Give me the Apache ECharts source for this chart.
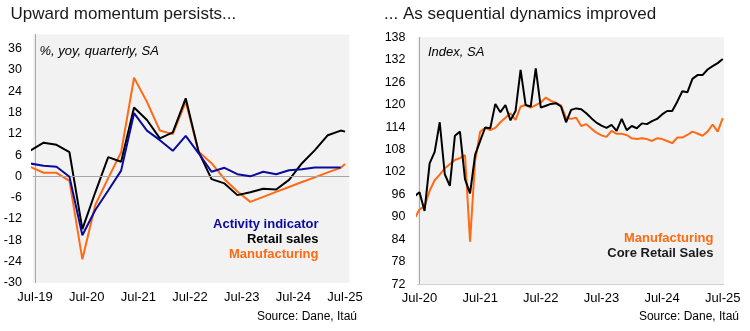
<!DOCTYPE html>
<html>
<head>
<meta charset="utf-8">
<script src="https://cdn.jsdelivr.net/npm/echarts@6/dist/echarts.min.js"></script>
<style>
  html, body { margin: 0; padding: 0; background: #ffffff; }
  #chart { width: 750px; height: 331px; }
</style>
</head>
<body>
<div id="chart"></div>
<script>
// ---------- Left chart data (quarterly, % yoy) ----------
const leftTickLabels = ['Jul-19', 'Jul-20', 'Jul-21', 'Jul-22', 'Jul-23', 'Jul-24', 'Jul-25'];
const quarterLabels = ['Jun-19','Sep-19','Dec-19','Mar-20','Jun-20','Sep-20','Dec-20','Mar-21','Jun-21','Sep-21','Dec-21','Mar-22','Jun-22','Sep-22','Dec-22','Mar-23','Jun-23','Sep-23','Dec-23','Mar-24','Jun-24','Sep-24','Dec-24','Mar-25','Jun-25','Jul-25'];
const activityIndicator = [3.6, 3.0, 2.7, -0.1, -16.6, -9.5, -4.0, 1.6, 17.8, 12.9, 10.2, 7.2, 11.4, 6.5, 1.3, 2.4, 0.6, 0.0, 1.3, 0.6, 1.7, 2.0, 2.5, 2.5, 2.5];
const retailSales = [7.3, 9.5, 8.9, 6.8, -14.9, -4.5, 5.4, 4.1, 19.4, 15.9, 10.7, 12.4, 22.0, 6.9, -0.8, -2.0, -5.3, -4.5, -3.5, -3.7, -1.0, 3.7, 7.4, 11.6, 12.9, 12.6];
const manufacturingYoy = [2.6, 1.0, 1.0, -1.3, -23.4, -8.1, -0.5, 6.8, 27.8, 21.0, 12.9, 11.9, 21.0, 6.9, 3.7, -0.8, -4.3, -7.2, -5.8, -4.4, -3.0, -1.6, -0.3, 1.1, 2.4, 3.5];

// ---------- Right chart data (monthly, index SA) ----------
const rightTickLabels = ['Jul-20', 'Jul-21', 'Jul-22', 'Jul-23', 'Jul-24', 'Jul-25'];
const coreRetailSales = [95.5, 96.6, 91.6, 104.3, 107.4, 115.3, 101.4, 98.3, 111.7, 112.8, 100.1, 96.3, 106.6, 110.3, 113.9, 113.7, 120.2, 118.0, 119.9, 115.8, 118.3, 129.3, 119.9, 119.5, 129.7, 119.2, 119.7, 120.2, 120.4, 119.5, 115.3, 118.6, 119.0, 118.8, 117.7, 116.4, 115.2, 114.4, 113.8, 114.6, 113.0, 116.2, 113.2, 114.3, 113.7, 115.0, 114.8, 115.6, 116.2, 117.4, 118.3, 118.3, 120.8, 123.6, 123.3, 126.9, 127.9, 127.9, 129.4, 130.3, 131.1, 132.2];
const manufacturingIndex = [89.5, 92.0, 92.8, 97.0, 99.8, 101.3, 103.0, 104.1, 105.2, 105.7, 106.5, 83.4, 105.0, 112.8, 113.8, 113.2, 113.8, 115.3, 116.5, 117.7, 115.9, 119.5, 119.9, 119.2, 119.9, 120.6, 121.9, 121.0, 120.5, 119.8, 116.5, 116.2, 116.5, 114.3, 114.8, 113.6, 112.5, 111.8, 111.4, 113.0, 112.2, 112.2, 111.9, 111.0, 110.8, 111.0, 110.8, 110.3, 111.0, 110.8, 110.3, 109.7, 111.2, 111.2, 111.9, 112.8, 112.3, 111.7, 112.8, 114.7, 112.8, 116.4];
const monthStart = 'Jun-20';

// ---------- helpers ----------
const MONTHS = ['Jan','Feb','Mar','Apr','May','Jun','Jul','Aug','Sep','Oct','Nov','Dec'];
function monthNum(label) {
  const p = label.split('-');
  return (2000 + parseInt(p[1], 10)) * 12 + MONTHS.indexOf(p[0]);
}
const leftBase = monthNum('Jul-19');
const rightBase = monthNum('Jul-20');
function pairs(labels, values, base) {
  return values.map((v, i) => [monthNum(labels[i]) - base, v]);
}
const monthLabels = [];
for (let i = 0; i < coreRetailSales.length; i++) {
  const n = monthNum(monthStart) + i;
  monthLabels.push(MONTHS[n % 12] + '-' + String(Math.floor(n / 12) % 100).padStart(2, '0'));
}

const FONT = '"Liberation Sans", Arial, sans-serif';
const BLUE = '#0a0a9e';
const ORANGE = '#ff6a13';
const BLACK = '#000000';
const AXIS = '#a6a6a6';

const chart = echarts.init(document.getElementById('chart'), null, { renderer: 'canvas' });

const labelStyle = { color: '#000', fontFamily: FONT, fontSize: 12.5 };

const option = {
  animation: false,
  backgroundColor: '#ffffff',
  grid: [
    { left: 32.85, top: 34.5, width: 316.5, height: 248.2, show: true, backgroundColor: '#f2f2f2', borderWidth: 0 },
    { left: 417.5, top: 37.3, width: 306.5, height: 247, show: true, backgroundColor: '#f2f2f2', borderWidth: 0 }
  ],
  xAxis: [
    {
      type: 'value', gridIndex: 0, min: -0.5, max: 73,
      axisLine: { show: false }, axisTick: { show: false }, splitLine: { show: false },
      axisLabel: Object.assign({}, labelStyle, {
        fontSize: 13, margin: 8,
        customValues: [0, 12, 24, 36, 48, 60, 72],
        formatter: v => leftTickLabels[Math.round(v / 12)] || ''
      })
    },
    {
      type: 'value', gridIndex: 1, min: -0.4, max: 60.25,
      axisLine: { show: true, onZero: false, lineStyle: { color: '#d0d0d0', width: 1 } },
      axisTick: { show: false }, splitLine: { show: false },
      axisLabel: Object.assign({}, labelStyle, {
        fontSize: 13, margin: 8,
        customValues: [0, 12, 24, 36, 48, 60],
        formatter: v => rightTickLabels[Math.round(v / 12)] || ''
      })
    }
  ],
  yAxis: [
    {
      type: 'value', gridIndex: 0, min: -30, max: 40, interval: 6,
      axisLine: { show: true, lineStyle: { color: AXIS, width: 1 } },
      axisTick: { show: false }, splitLine: { show: false },
      axisLabel: Object.assign({}, labelStyle, { margin: 11, showMaxLabel: false })
    },
    {
      type: 'value', gridIndex: 1, min: 72, max: 138, interval: 6,
      axisLine: { show: true, lineStyle: { color: AXIS, width: 1 } },
      axisTick: { show: false }, splitLine: { show: false },
      axisLabel: Object.assign({}, labelStyle, { margin: 12 })
    }
  ],
  series: [
    {
      name: 'zero', type: 'line', xAxisIndex: 0, yAxisIndex: 0,
      data: pairs(quarterLabels, activityIndicator, leftBase),
      symbol: 'none', lineStyle: { opacity: 0 }, silent: true, z: 1,
      markLine: {
        silent: true, symbol: 'none', label: { show: false },
        lineStyle: { color: AXIS, width: 1, type: 'solid' },
        data: [{ yAxis: 0 }]
      }
    },
    {
      name: 'Manufacturing', type: 'line', xAxisIndex: 0, yAxisIndex: 0,
      data: pairs(quarterLabels, manufacturingYoy, leftBase),
      symbol: 'none', lineStyle: { color: ORANGE, width: 2 }, z: 3
    },
    {
      name: 'Retail sales', type: 'line', xAxisIndex: 0, yAxisIndex: 0,
      data: pairs(quarterLabels, retailSales, leftBase),
      symbol: 'none', lineStyle: { color: BLACK, width: 2 }, z: 4
    },
    {
      name: 'Activity indicator', type: 'line', xAxisIndex: 0, yAxisIndex: 0,
      data: pairs(quarterLabels, activityIndicator, leftBase),
      symbol: 'none', lineStyle: { color: BLUE, width: 2 }, z: 5
    },
    {
      name: 'Manufacturing idx', type: 'line', xAxisIndex: 1, yAxisIndex: 1,
      data: pairs(monthLabels, manufacturingIndex, rightBase),
      symbol: 'none', lineStyle: { color: ORANGE, width: 2 }, z: 3
    },
    {
      name: 'Core Retail Sales', type: 'line', xAxisIndex: 1, yAxisIndex: 1,
      data: pairs(monthLabels, coreRetailSales, rightBase),
      symbol: 'none', lineStyle: { color: BLACK, width: 2 }, z: 4
    }
  ],
  graphic: [
    { type: 'text', left: 10.5, top: 5.5, style: { text: 'Upward momentum persists...', fill: '#1a1a1a', font: '17px ' + FONT } },
    { type: 'text', left: 384, top: 5.5, style: { text: '... As sequential dynamics improved', fill: '#1a1a1a', font: '17px ' + FONT } },
    { type: 'text', left: 39.5, top: 45, style: { text: '%, yoy, quarterly, SA', fill: '#000', font: 'italic 13px ' + FONT } },
    { type: 'text', left: 428, top: 46, style: { text: 'Index, SA', fill: '#000', font: 'italic 13px ' + FONT } },
    { type: 'text', right: 750 - 318.5, top: 217.5, style: { text: 'Activity indicator', fill: BLUE, font: 'bold 13px ' + FONT } },
    { type: 'text', right: 750 - 318.5, top: 232.5, style: { text: 'Retail sales', fill: BLACK, font: 'bold 13px ' + FONT } },
    { type: 'text', right: 750 - 318.5, top: 247.5, style: { text: 'Manufacturing', fill: ORANGE, font: 'bold 13px ' + FONT } },
    { type: 'text', right: 750 - 713.5, top: 231.5, style: { text: 'Manufacturing', fill: ORANGE, font: 'bold 13px ' + FONT } },
    { type: 'text', right: 750 - 713.5, top: 246.5, style: { text: 'Core Retail Sales', fill: '#1a1a1a', font: 'bold 13px ' + FONT } },
    { type: 'text', right: 750 - 357, top: 311, style: { text: 'Source: Dane, Itaú', fill: '#000', font: '12px ' + FONT } },
    { type: 'text', right: 750 - 739, top: 311, style: { text: 'Source: Dane, Itaú', fill: '#000', font: '12px ' + FONT } }
  ]
};

chart.setOption(option);
</script>
</body>
</html>
